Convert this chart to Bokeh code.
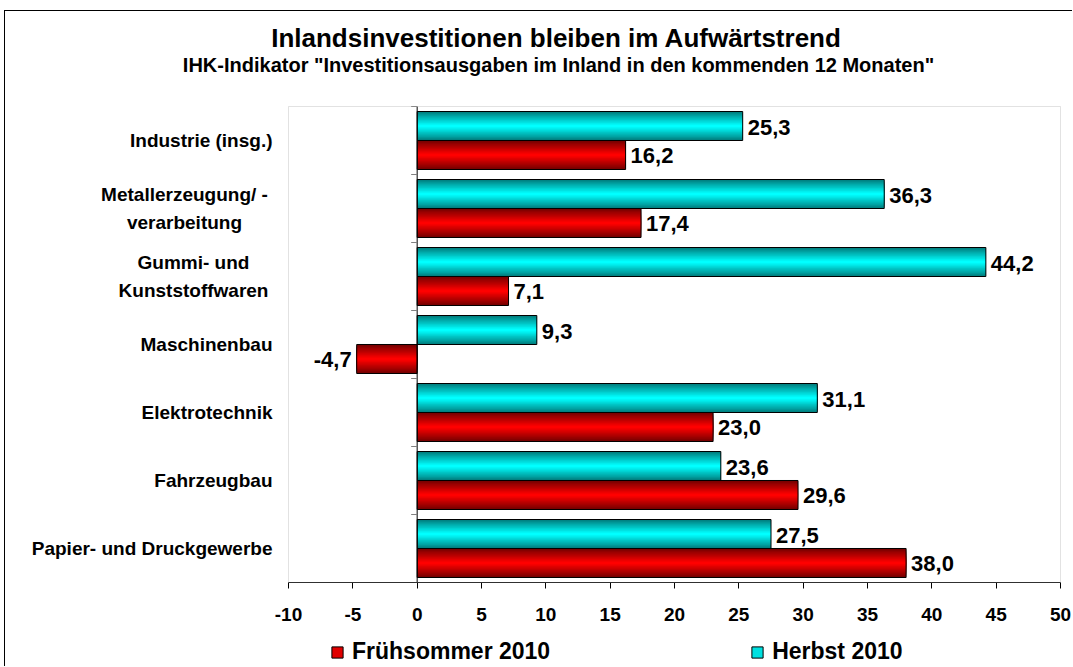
import numpy as np
from bokeh.plotting import figure
from bokeh.models import (ColumnDataSource, Range1d, LabelSet, Label, BoxAnnotation,
                          Legend, LegendItem, FixedTicker)
from bokeh.core.properties import value
from bokeh.embed import file_html
from bokeh.resources import INLINE

# ---------------- data ----------------
categories = ["Industrie (insg.)", "Metallerzeugung/ -\nverarbeitung",
              "Gummi- und\nKunststoffwaren", "Maschinenbau", "Elektrotechnik",
              "Fahrzeugbau", "Papier- und Druckgewerbe"]
herbst_2010 = [25.3, 36.3, 44.2, 9.3, 31.1, 23.6, 27.5]
fruehsommer_2010 = [16.2, 17.4, 7.1, -4.7, 23.0, 29.6, 38.0]
series_names = ["Frühsommer 2010", "Herbst 2010"]
x_ticks = [-10, -5, 0, 5, 10, 15, 20, 25, 30, 35, 40, 45, 50]
title_text = "Inlandsinvestitionen bleiben im Aufwärtstrend"
subtitle_text = 'IHK-Indikator "Investitionsausgaben im Inland in den kommenden 12 Monaten"'

FONT = "Liberation Sans"
n = len(categories)
idx = np.arange(n)
x_min, x_max = x_ticks[0], x_ticks[-1]

# ---------------- layout (pixels on the canvas) ----------------
W, Hc = 1068, 656                     # canvas size
PL, PR, PT, PB = 283, 1055, 95, 571   # plot area box inside canvas
ux = (PR - PL) / (x_max - x_min)      # px per x unit
uy = (PB - PT) / n                    # px per category
xr = Range1d(x_min - PL / ux, x_max + (W - PR) / ux)
yr = Range1d(n - 0.5 + (Hc - PB) / uy, -0.5 - PT / uy)

p = figure(width=W, height=Hc, output_backend="svg", toolbar_location=None,
           title=None, x_range=xr, y_range=yr, min_border=0, y_axis_location=None)
p.styles = {"margin-left": "4px", "margin-top": "10px",
            "border-left": "1px solid black", "border-top": "1px solid black"}
p.background_fill_color = "white"
p.border_fill_color = "white"
p.outline_line_color = None
p.xgrid.visible = False
p.ygrid.visible = False

# plot area frame
p.add_layout(BoxAnnotation(left=x_min, right=x_max, top=-0.5, bottom=n - 0.5,
                           fill_alpha=0, line_color="#a0a0a0", line_width=1))

# x axis at the bottom of the plot area
ax = p.xaxis[0]
ax.fixed_location = n - 0.5
ax.bounds = (x_min, x_max)
ax.ticker = FixedTicker(ticks=x_ticks)
ax.major_label_overrides = {t: str(t) for t in x_ticks}
ax.minor_tick_line_color = None
ax.major_tick_in = 0
ax.major_tick_out = 6
ax.axis_line_color = "black"
ax.major_tick_line_color = "black"
ax.major_label_text_font = FONT
ax.major_label_text_font_style = "bold"
ax.major_label_text_font_size = "19px"
ax.major_label_text_color = "black"
ax.major_label_standoff = 19

# legend key renderers (zero-size, hidden on the category axis line)
key_f = p.hbar(y=[0], left=0, right=[0], height=0, fill_color="#e00000", line_color="black")
key_h = p.hbar(y=[0], left=0, right=[0], height=0, fill_color="#00e0e0", line_color="black")

# bars with gradient (layered)
dodge = 0.2132
H = 0.4265
layers = 12


def lerp(c1, c2, t):
    return "#%02x%02x%02x" % tuple(int(round(a + (b - a) * t)) for a, b in zip(c1, c2))


red_edge, red_mid = (120, 0, 0), (255, 0, 0)
cy_edge, cy_mid = (0, 128, 128), (0, 255, 255)

src_h = ColumnDataSource(dict(y=idx - dodge, right=herbst_2010))
src_f = ColumnDataSource(dict(y=idx + dodge, right=fruehsommer_2010))

for k in range(layers):
    t = k / (layers - 1)
    hk = H * (1 - k / layers)
    p.hbar(y="y", right="right", left=0, height=hk, source=src_h,
           fill_color=lerp(cy_edge, cy_mid, t), line_color=None)
    p.hbar(y="y", right="right", left=0, height=hk, source=src_f,
           fill_color=lerp(red_edge, red_mid, t), line_color=None)
p.hbar(y="y", right="right", left=0, height=H, source=src_h,
       fill_alpha=0, line_color="black", line_width=1)
p.hbar(y="y", right="right", left=0, height=H, source=src_f,
       fill_alpha=0, line_color="black", line_width=1)

# category axis at x = 0 with tick marks between categories
p.segment(x0=[0], y0=[-0.5], x1=[0], y1=[n - 0.5], line_color="black", line_width=1)
bounds = np.arange(n + 1) - 0.5
p.ray(x=np.zeros(n + 1), y=bounds, length=6, length_units="screen", angle=np.pi,
      line_color="#808080", line_width=1)


def fmt(v):
    return f"{v:.1f}".replace(".", ",")


# value labels
vals_y, vals_x, vals_t = [], [], []
neg_y, neg_x, neg_t = [], [], []
for ys, vs in ((idx - dodge, herbst_2010), (idx + dodge, fruehsommer_2010)):
    for y, v in zip(ys, vs):
        if v >= 0:
            vals_y.append(y); vals_x.append(v); vals_t.append(fmt(v))
        else:
            neg_y.append(y); neg_x.append(v); neg_t.append(fmt(v))

lab_kw = dict(text_font=value(FONT), text_font_style="bold", text_font_size="22px",
              text_color="black", text_baseline="middle")
p.add_layout(LabelSet(x="x", y="y", text="t", x_offset=5, y_offset=-1, text_align="left",
                      source=ColumnDataSource(dict(x=vals_x, y=vals_y, t=vals_t)), **lab_kw))
p.add_layout(LabelSet(x="x", y="y", text="t", x_offset=-5, y_offset=-1, text_align="right",
                      source=ColumnDataSource(dict(x=neg_x, y=neg_y, t=neg_t)), **lab_kw))

# category labels left of the plot area
multi_offsets = {1: -104, 2: -95}
for i, cat in enumerate(categories):
    multi = "\n" in cat
    p.add_layout(Label(x=x_min, y=i, x_offset=multi_offsets.get(i, -16), text=cat,
                       text_align="center" if multi else "right", text_baseline="middle",
                       text_font=FONT, text_font_style="bold", text_font_size="19px",
                       text_line_height=1.35, text_color="black"))

# titles (screen units: from the canvas bottom-left)
p.add_layout(Label(x=551, y=Hc - 26, x_units="screen", y_units="screen", text=title_text,
                   text_align="center", text_baseline="alphabetic", text_font=FONT,
                   text_font_style="bold", text_font_size="26px", text_color="black"))
p.add_layout(Label(x=553, y=Hc - 53, x_units="screen", y_units="screen", text=subtitle_text,
                   text_align="center", text_baseline="alphabetic", text_font=FONT,
                   text_font_style="bold", text_font_size="20px", text_color="black"))

# legend
lg = Legend(items=[LegendItem(label=series_names[0], renderers=[key_f]),
                   LegendItem(label=series_names[1], renderers=[key_h])],
            location=(325, 2), orientation="horizontal", padding=0, margin=0,
            spacing=200, glyph_width=14, glyph_height=14, label_standoff=8,
            border_line_alpha=0, background_fill_alpha=0, label_text_font=FONT,
            label_text_font_style="bold", label_text_font_size="23px",
            label_text_color="black")
p.add_layout(lg, "center")

open("out.html", "w").write(file_html(p, INLINE))
